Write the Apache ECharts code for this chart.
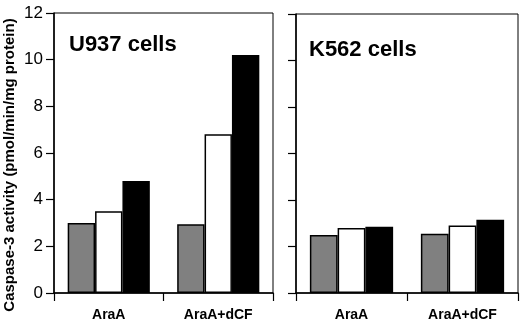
<!DOCTYPE html>
<html>
<head>
<meta charset="utf-8">
<script src="https://cdn.jsdelivr.net/npm/echarts@6/dist/echarts.min.js"></script>
<style>
  html, body { margin: 0; padding: 0; background: #fff; }
  #chart { width: 520px; height: 322px; }
</style>
</head>
<body>
<div id="chart"></div>
<script>
  // data
  var categories = ['AraA', 'AraA+dCF']
  var panels = ['U937 cells', 'K562 cells']
  var yTicks = [0, 2, 4, 6, 8, 10, 12]
  // three bar series per panel: grey, white, black
  var u937Grey = [3.0, 2.95]
  var u937White = [3.5, 6.8]
  var u937Black = [4.8, 10.2]
  var k562Grey = [2.5, 2.55]
  var k562White = [2.8, 2.9]
  var k562Black = [2.85, 3.15]

  var chart = echarts.init(document.getElementById('chart'))
  var font = 'Liberation Sans, Arial, Helvetica, sans-serif'
  var fills = ['#808080', '#ffffff', '#000000']

  function yAxis (idx, showLabels) {
    return {
      gridIndex: idx,
      type: 'value',
      min: yTicks[0],
      max: yTicks[yTicks.length - 1],
      interval: 2,
      axisLine: { show: true, lineStyle: { color: '#000', width: 1.5 } },
      axisTick: { show: true, length: 8, lineStyle: { color: '#000', width: 1.2 } },
      axisLabel: { show: showLabels, color: '#000', fontFamily: font, fontSize: 17, margin: 11 },
      splitLine: { show: false },
    }
  }

  function xAxis (idx) {
    return {
      gridIndex: idx,
      type: 'category',
      data: categories,
      axisLine: { show: true, lineStyle: { color: '#000', width: 1.5 } },
      axisTick: { show: true, length: 8, lineStyle: { color: '#000', width: 1.2 } },
      axisLabel: { color: '#000', fontFamily: font, fontSize: 14, fontWeight: 'bold', margin: 15 },
    }
  }

  function bars (idx, values) {
    return values.map(function (v, i) {
      return {
        type: 'bar',
        xAxisIndex: idx,
        yAxisIndex: idx,
        data: v,
        barGap: '0%',
        barCategoryGap: '25%',
        itemStyle: { color: fills[i], borderColor: '#000', borderWidth: 1.5 },
      }
    })
  }

  var option = {
    animation: false,
    backgroundColor: '#fff',
    title: [
      { text: panels[0], left: 64, top: 29, textStyle: { fontFamily: font, fontSize: 22, fontWeight: 'bold', color: '#000' } },
      { text: panels[1], left: 304, top: 34, textStyle: { fontFamily: font, fontSize: 22, fontWeight: 'bold', color: '#000' } },
    ],
    grid: [
      { left: 54, top: 13, width: 219, height: 280, show: true, borderColor: '#000', borderWidth: 1 },
      { left: 296, top: 14, width: 222, height: 282, show: true, borderColor: '#000', borderWidth: 1 },
    ],
    xAxis: [xAxis(0), xAxis(1)],
    yAxis: [yAxis(0, true), yAxis(1, false)],
    graphic: [{
      type: 'text',
      x: 10,
      y: 165,
      rotation: Math.PI / 2,
      style: {
        text: 'Caspase-3 activity (pmol/min/mg protein)',
        fontFamily: font,
        fontSize: 15,
        fontWeight: 'bold',
        fill: '#000',
        textAlign: 'center',
        textVerticalAlign: 'middle',
      },
    }],
    series: bars(0, [u937Grey, u937White, u937Black]).concat(bars(1, [k562Grey, k562White, k562Black])),
  }
  chart.setOption(option)
</script>
</body>
</html>
